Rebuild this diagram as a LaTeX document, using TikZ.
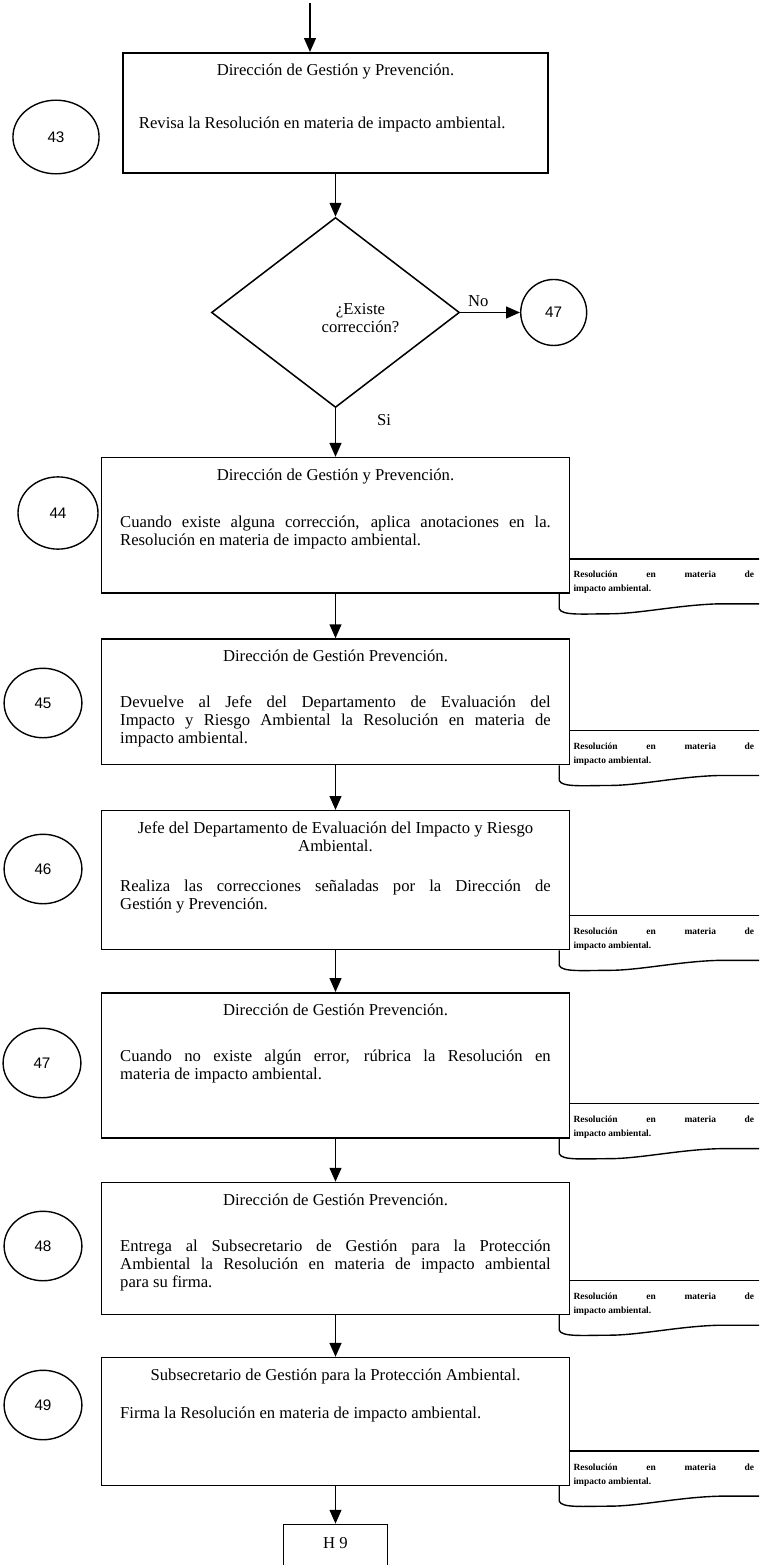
\documentclass[tikz,border=0pt]{standalone}
\usepackage{fontspec}
\setmainfont{Liberation Serif}
\newfontfamily\numfont{Liberation Sans}
\usepackage{tikz}
\usetikzlibrary{shapes.geometric, arrows.meta, positioning, calc}
\hbadness=10000
\tikzset{
  stepbox/.style={rectangle, draw, line width=1.1pt, text width=310pt,
    align=justify, inner xsep=13.5pt, inner ysep=0pt, text height=16.5pt,
    font=\fontsize{12}{13}\selectfont},
  numcirc/.style={ellipse, draw, line width=1pt, minimum width=56pt,
    minimum height=50pt, inner sep=0pt, font=\numfont\fontsize{11}{13}\selectfont},
  decision/.style={diamond, draw, line width=1.1pt, minimum width=178.6pt,
    minimum height=136.8pt, inner sep=0pt},
  doctext/.style={text width=130pt, align=justify, inner sep=0pt,
    font=\fontsize{6.8}{10}\selectfont\bfseries, anchor=base west},
  arrow/.style={-{Triangle[length=10pt,width=8.5pt]}, line width=1.2pt},
  docline/.style={line width=1pt}
}

\begin{document}
\begin{tikzpicture}[x=0.72pt, y=-0.72pt, font=\fontsize{12}{13}\selectfont]
  \clip (0,0) rectangle (759,1565);
  \node[stepbox, text width=283pt, inner xsep=11.5pt, text depth=70pt, anchor=north] (b1) at (335.5,52)
    {{\centering Dirección de Gestión y Prevención.\par}\vspace{25pt}Revisa la Resolución en materia de impacto ambiental.};
  \node[decision, below=31pt of b1] (dec) {};
  \node[align=center] (q) at ($(dec.center)+(25,6)$) {¿Existe\\corrección?};
  \node[numcirc, minimum width=47.5pt, minimum height=47.5pt, right=43pt of dec] (c47a) {47};
  \node[stepbox, text depth=81pt, below=35pt of dec] (b2)
    {{\centering Dirección de Gestión y Prevención.\par}\vspace{21pt}Cuando existe alguna corrección, aplica anotaciones en la.\linebreak Resolución en materia de impacto ambiental.};
  \node[stepbox, text depth=74pt, below=32pt of b2] (b3)
    {{\centering Dirección de Gestión Prevención.\par}\vspace{20pt}Devuelve al Jefe del Departamento de Evaluación del\linebreak Impacto y Riesgo Ambiental la Resolución en materia de\linebreak impacto ambiental.};
  \node[stepbox, text depth=83.5pt, below=32pt of b3] (b4)
    {{\centering Jefe del Departamento de Evaluación del Impacto y Riesgo\\Ambiental.\par}\vspace{16pt}Realiza las correcciones señaladas por la Dirección de\linebreak Gestión y Prevención.};
  \node[stepbox, text depth=88pt, below=30pt of b4] (b5)
    {{\centering Dirección de Gestión Prevención.\par}\vspace{20pt}Cuando no existe algún error, rúbrica la Resolución en\linebreak materia de impacto ambiental.};
  \node[stepbox, text depth=78.5pt, below=31pt of b5] (b6)
    {{\centering Dirección de Gestión Prevención.\par}\vspace{20pt}Entrega al Subsecretario de Gestión para la Protección\linebreak Ambiental la Resolución en materia de impacto ambiental\linebreak para su firma.};
  \node[stepbox, text depth=75.5pt, below=30pt of b6] (b7)
    {{\centering Subsecretario de Gestión para la Protección Ambiental.\par}\vspace{14pt}Firma la Resolución en materia de impacto ambiental.};
  \node[draw, line width=1.1pt, minimum width=75pt, inner ysep=0pt, text height=17pt,
    text depth=40pt, below=27pt of b7] (h9) {H 9};
  % numeros de paso
  \node[numcirc, minimum width=62pt, minimum height=53pt] (c43) at (56,137) {43};
  \node[numcirc, minimum width=57.6pt, minimum height=52pt] (c44) at (58,513) {44};
  \node[numcirc] (c45) at (43,703) {45};
  \node[numcirc] (c46) at (43,869) {46};
  \node[numcirc] (c47) at (42,1063) {47};
  \node[numcirc] (c48) at (43,1246) {48};
  \node[numcirc] (c49) at (43,1405) {49};
  % flechas
  \coordinate (start) at (310,3);
  \draw[arrow] (start) -- (start |- b1.north);
  \draw[arrow] (b1) -- (dec);
  \draw[arrow] (dec) -- node[pos=0.3, above] (lno) {No} (c47a);
  \draw[arrow] (dec) -- node[pos=0.25, right=26pt] (lsi) {Si} (b2);
  \draw[arrow] (b2) -- (b3);
  \draw[arrow] (b3) -- (b4);
  \draw[arrow] (b4) -- (b5);
  \draw[arrow] (b5) -- (b6);
  \draw[arrow] (b6) -- (b7);
  \draw[arrow] (b7) -- (h9);
  % documentos
  \foreach \bx in {b2,b3,b4,b5,b6,b7} {
    \draw[docline] ($(\bx.south east)+(0,-35)$) -- ++(240,0);
    \draw[docline] ($(\bx.south east)+(-11,0)$) -- ++(0,15)
      .. controls +(2,7) and +(-25,0) .. ++(50,5)
      .. controls +(30,0) and +(-40,1) .. ++(110,-10) -- ++(100,0);
    \node[doctext] (d-\bx) at ($(\bx.south east)+(3,-16)$) {Resolución en materia de\linebreak impacto ambiental.};
  }
\end{tikzpicture}
\end{document}
